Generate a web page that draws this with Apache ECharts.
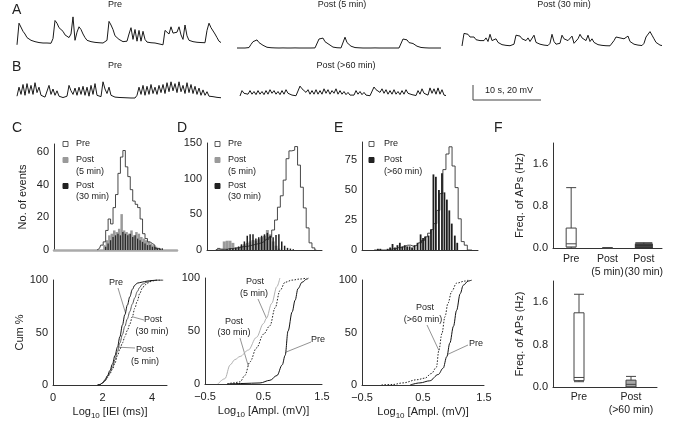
<!DOCTYPE html>
<html><head><meta charset="utf-8">
<script src="https://cdn.jsdelivr.net/npm/echarts/dist/echarts.min.js"></script>
<style>html,body{margin:0;padding:0;background:#fff}#c{width:675px;height:434px}</style>
</head><body><div id="c"></div><script>
// ---------- DATA ----------
// Voltage traces (mV above baseline, uniform sampling)
const tracePreA = [-2,22,20,13,10,6,8,3,2,1.5,1,0.5,0.3,0,0,0,0,-0.3,5,25,22,17,18,13,9,11,6,10,29,3,12,18,15,10,6,3,2,1.5,1,0.7,0.5,0.3,0.2,0,0,3,24,20,15,8,9,4,2,1.5,2,2,10,17,4,15,2,14,2,13,4,1,0.5,0.3,0,0,-0.5,-1,-1.5,-2,14,16,10,18,11,13,12,18,9,4,20,8,3,2,1.5,1,0.8,0.5,0.5,0.3,0.3,14,22,17,18,10,6,2,0.5];
const tracePost5A = [0,0.2,0,0.1,0,0.2,0.5,4,7,5,9,6,7,3,1.5,0.8,0.5,0.3,0.2,0.1,0,0,0,0.1,0,0,0,0,0,0.1,0,0,0,0,0,0,0,0,0,0.1,2,10,8,11,7,8,4,2,1,0.5,0.3,0.2,0.1,2,12,6,5,2,1,0.5,0.3,0.2,0.1,0,0,0,0,0,0,0.1,0,0,0,0,0,0,0,0,0,0,0,0,1,10,8,9,6,6,5,3,2,1.2,0.6,0.3,0.2,0.1,0,0,0,0.2,0,1.5,0];
const tracePost30A = [0,14,12,13,10,9,10,7,6,6,5,6,9,5,13,6,4,8,4,2.5,1.5,1,0.7,0.5,0.3,0.3,2,12,10,11,8,7,6,9,5,4,12,4,3,2,1.5,1,0.8,0.5,3,13,5,2,1,3,12,8,9,6,5,11,3,2,8,13,9,10,6,12,5,8,4,2.5,1.5,1,0.7,0.5,0.3,0.3,0.2,0.5,6,10,8,9,7,8,6,11,5,3,2,1.5,1,0.6,0.5,3,10,9,16,12,8,4,2,1,0.5];
const tracePreB = [2,12,4,15,3,16,5,14,4,17,6,12,3,1.5,1,2,14,4,10,3,8,2,1,0.5,0.3,2,14,8,4,11,3,12,4,13,3,12,2,14,4,16,3,2,1.5,18,10,5,12,3,1.5,1,0.8,0.6,0.5,0.4,0.3,0.2,0.1,0,0,0,3,12,4,14,3,13,4,15,5,12,4,14,6,15,5,17,7,18,8,16,6,18,7,14,5,17,6,15,5,13,4,11,3,9,3,7,2,4,1.5,1,0.7,0.5,0.3];
const tracePost60B = [0,6,3,5,2,6,2,5,1.5,6,2,5,1.5,6,2,7,3,6,2,5,1.5,6,2,7,3,5,1,0.5,0.3,1,11,8,10,4,7,2,6,2,7,2,6,2,8,3,7,2,6,3,8,2,6,2,5,1.5,4,1,0.5,1,6,2,5,1.5,4,1,0.5,0.3,1,10,7,9,4,8,3,7,2,6,2,7,2,5,1.5,6,2,7,3,5,1.5,1,0.5,6,2,8,3,5,1,9,3,8,2,9,2,7,1,0.5];

// C: IEI histograms (log10 ms)
const cBins = [1.75,1.85,1.95,2.05,2.15,2.25,2.35,2.45,2.55,2.65,2.75,2.85,2.95,3.05,3.15,3.25,3.35,3.45,3.55,3.65,3.75,3.85,3.95,4.05,4.15,4.25,4.35];
const cPre = [0,1,3,5,12,19,16,26,34,47,57,61,51,45,37,30,28,26,19,10,7,5,4,3,1,1,0];
const cPost5 = [0,0,0,3,6,9,10,12,11,13,22,12,11,10,12,9,11,10,8,7,6,5,4,3,2,1,0];
const cBins30 = [2.1,2.2,2.3,2.4,2.5,2.6,2.7,2.8,2.9,3.0,3.1,3.2,3.3,3.4,3.5,3.6,3.7,3.8,3.9,4.0,4.1,4.2,4.3,4.4];
const cPost30 = [2,4,6,8,9,10,9,11,10,9,10,8,9,7,6,5,4,3,3,2,2,1,1,1];

// D: amplitude histograms (log10 mV)
const dBins = [-0.35,-0.3,-0.25,-0.2,-0.15,-0.1,-0.05,0,0.05,0.1,0.15,0.2,0.25,0.3,0.35,0.4,0.45,0.5,0.55,0.6,0.65,0.7,0.75,0.8,0.85,0.9,0.95,1.0,1.05,1.1,1.15,1.2,1.25,1.3,1.35,1.4];
const dPre = [0,2,1,1,1,2,2,3,3,4,5,5,6,7,8,9,10,12,15,18,28,42,60,76,98,128,139,140,145,119,88,59,31,10,3,0];
const dPost5 = [0,3,2,12,13,13,10,3,4,6,8,10,12,14,13,15,18,20,28,22,12,6,2,0,0,0,0,0,0,0,0,0,0,0,0,0];
const dPost30 = [0,0,0,0,1,2,2,3,5,8,12,20,22,22,16,18,20,22,24,20,18,21,22,12,6,3,2,1,0,0,0,0,0,0,0,0];

// E: amplitude histograms (log10 mV)
const eBins = [-0.3,-0.25,-0.2,-0.15,-0.1,-0.05,0,0.05,0.1,0.15,0.2,0.25,0.3,0.35,0.4,0.45,0.5,0.55,0.6,0.65,0.7,0.75,0.8,0.85,0.9,0.95,1.0,1.05,1.1,1.15,1.2,1.25,1.3];
const ePre = [0,0,0,0,0,0,1,1,2,2,3,4,4,3,4,6,8,11,14,17,22,33,47,67,80,86,70,52,26,7,4,0,0];
const eBins60 = [-0.24,-0.2,-0.08,-0.04,0,0.04,0.08,0.12,0.16,0.2,0.24,0.28,0.32,0.36,0.41,0.46,0.5,0.54,0.59,0.63,0.67,0.71,0.76,0.81,0.85,0.89,0.93,0.97,1.02,1.06];
const ePost60 = [1,1,1,2,5,2,4,6,3,4,3,3,2,4,6,13,10,11,12,17,63,61,50,64,48,42,33,22,12,6];

// Cumulative distributions [log value, cum %]
const cdfCPre = [[1.8,0],[1.9,0.5],[2.0,2],[2.1,5],[2.2,9],[2.3,14],[2.4,20],[2.5,28],[2.6,36],[2.7,46],[2.8,57],[2.9,67],[3.0,76],[3.1,84],[3.2,91],[3.3,95],[3.4,97],[3.6,98],[3.8,99],[4.0,99.5],[4.2,100],[4.4,100]];
const cdfCPost5 = [[1.8,0],[1.9,0.5],[2.0,2],[2.1,4],[2.2,8],[2.3,12],[2.4,17],[2.5,24],[2.6,32],[2.7,40],[2.8,48],[2.9,56],[3.0,63],[3.1,70],[3.2,77],[3.3,83],[3.4,89],[3.5,93],[3.6,96],[3.8,98],[4.0,99.5],[4.2,100]];
const cdfCPost30 = [[1.8,0],[1.9,0.5],[2.0,2],[2.1,4],[2.2,7],[2.3,11],[2.4,15],[2.5,21],[2.6,28],[2.7,34],[2.8,40],[2.9,46],[3.0,52],[3.1,58],[3.2,65],[3.3,73],[3.4,80],[3.5,87],[3.6,92],[3.7,95],[3.8,97],[4.0,99],[4.2,100],[4.5,100]];
const cdfDPost5 = [[-0.28,0],[-0.16,5],[-0.07,18],[0.01,23],[0.1,26],[0.24,32],[0.38,44],[0.5,57],[0.55,62],[0.64,76],[0.73,92],[0.78,100]];
const cdfDPost30 = [[-0.12,0],[-0.02,1],[0.1,2],[0.18,8],[0.27,21],[0.38,34],[0.5,47],[0.61,55],[0.7,72],[0.78,88],[0.87,96],[0.99,98],[1.12,99],[1.24,100]];
const cdfDPre = [[-0.12,0],[0.15,0.5],[0.44,1],[0.61,3.5],[0.73,8],[0.82,18],[0.87,27],[0.92,50],[0.99,68],[1.04,79],[1.09,90],[1.16,96],[1.24,99],[1.27,100]];
const cdfEPost60 = [[-0.18,0],[0.01,0.5],[0.17,2],[0.4,5],[0.53,6.5],[0.64,11],[0.72,17],[0.76,33],[0.81,49],[0.86,65],[0.91,78],[0.97,89],[1.05,97],[1.19,99],[1.24,100]];
const cdfEPre = [[0.29,0],[0.45,2],[0.61,4],[0.75,10],[0.83,16],[0.89,27],[0.94,40],[1.0,56],[1.05,71],[1.11,87],[1.16,95],[1.24,99],[1.3,100]];

// F: AP frequency box plots [min, Q1, median, Q3, max] (Hz)
const fCats = ['Pre', 'Post\n(5 min)', 'Post\n(30 min)'];
const fPre = [0, 0.02, 0.08, 0.38, 1.15];
const fPost5 = [0, 0, 0, 0, 0];
const fPost30 = [0, 0, 0.05, 0.08, 0.1];
const fCats2 = ['Pre', 'Post\n(>60 min)'];
const fPre2 = [0.1, 0.12, 0.18, 1.4, 1.75];
const fPost60 = [0, 0, 0.05, 0.13, 0.2];

// ---------- CHART ----------
const FONT = '"Liberation Sans", Arial, Helvetica, sans-serif';
const INK = '#222';
const chart = echarts.init(document.getElementById('c'), null, {renderer: 'canvas'});

const G = (l, t, w, h) => ({left: l, top: t, width: w, height: h, containLabel: false, outerBoundsMode: 'none'});
const grids = [
  G(17, 14.2, 204, 31.5), G(237, 19.2, 204, 31.5), G(462, 17.2, 200, 31.5),
  G(17, 69.2, 204, 31.5), G(240, 67.2, 206, 31.5),
  G(54, 144, 123, 106), G(207, 143, 115, 107), G(362, 142, 116, 108), G(553, 143, 109, 105),
  G(53, 280, 114, 105), G(205, 278, 117, 106), G(362, 280, 122, 105), G(553, 281, 104, 106)
];
const axLine = {onZero: false, lineStyle: {color: '#333', width: 1}};
const lab = {color: INK, fontSize: 11, fontFamily: FONT};
const nameTS = {color: INK, fontSize: 11, fontFamily: FONT};
const hid = (g, min, max) => ({type: 'value', gridIndex: g, min, max, show: false});
const minus = v => String(v).replace('-', '\u2212');
const logName = txt => ({
  name: '{a|Log}{s|10}{a| ' + txt + '}',
  nameLocation: 'middle', nameGap: 21,
  nameTextStyle: {rich: {
    a: {fontSize: 11, fontFamily: FONT, color: INK, lineHeight: 12, verticalAlign: 'top'},
    s: {fontSize: 8, fontFamily: FONT, color: INK, lineHeight: 8, padding: [6, 0, 0, 0], verticalAlign: 'top'}
  }}
});

const traces = [tracePreA, tracePost5A, tracePost30A, tracePreB, tracePost60B];
const xAxis = [];
const yAxis = [];
traces.forEach((t, i) => { xAxis.push(hid(i, 0, t.length - 1)); yAxis.push(hid(i, -3, 32)); });
// 5 C top, 6 D top, 7 E top
xAxis.push({type: 'value', gridIndex: 5, min: 0, max: 5, axisLine: {onZero: false, lineStyle: {color: '#aaa', width: 2.5}}, axisTick: {show: false}, axisLabel: {show: false}, splitLine: {show: false}});
xAxis.push({type: 'value', gridIndex: 6, min: -0.5, max: 1.5, axisLine: axLine, axisTick: {show: false}, axisLabel: {show: false}, splitLine: {show: false}});
xAxis.push({type: 'value', gridIndex: 7, min: -0.5, max: 1.4, axisLine: axLine, axisTick: {show: false}, axisLabel: {show: false}, splitLine: {show: false}});
// 8 F top
xAxis.push({type: 'category', gridIndex: 8, data: fCats, axisLine: axLine, axisTick: {show: false}, axisLabel: Object.assign({}, lab, {margin: 5, lineHeight: 13, interval: 0, fontSize: 10.5}), splitLine: {show: false}});
// 9-11 bottom CDFs
xAxis.push(Object.assign({type: 'value', gridIndex: 9, min: 0, max: 4.6, interval: 2, axisLine: axLine, axisTick: {show: false}, axisLabel: Object.assign({margin: 7, showMaxLabel: false}, lab), splitLine: {show: false}}, logName('[IEI (ms)]')));
xAxis.push(Object.assign({type: 'value', gridIndex: 10, min: -0.5, max: 1.5, interval: 1, axisLine: axLine, axisTick: {show: false}, axisLabel: Object.assign({margin: 7, formatter: minus}, lab), splitLine: {show: false}}, logName('[Ampl. (mV)]')));
xAxis.push(Object.assign({type: 'value', gridIndex: 11, min: -0.5, max: 1.5, interval: 1, axisLine: axLine, axisTick: {show: false}, axisLabel: Object.assign({margin: 7, formatter: minus}, lab), splitLine: {show: false}}, logName('[Ampl. (mV)]')));
// 12 F bottom
xAxis.push({type: 'category', gridIndex: 12, data: fCats2, axisLine: axLine, axisTick: {show: false}, axisLabel: Object.assign({}, lab, {margin: 4, lineHeight: 13, interval: 0, fontSize: 10.5}), splitLine: {show: false}});
// 13.. hidden axes for overlapping bar layers / second box series
xAxis.push(hid(5, 0, 5));        // 13 C gray
xAxis.push(hid(5, 0, 5));        // 14 C black
xAxis.push(hid(6, -0.5, 1.5));   // 15 D gray
xAxis.push(hid(6, -0.5, 1.5));   // 16 D black
xAxis.push(hid(7, -0.5, 1.4));   // 17 E black
xAxis.push({type: 'category', gridIndex: 8, data: fCats, show: false}); // 18

const yv = (g, min, max, interval, extra) => Object.assign({type: 'value', gridIndex: g, min, max, interval,
  axisLine: {show: true, onZero: false, lineStyle: {color: '#333', width: 1}}, axisTick: {show: false},
  axisLabel: Object.assign({margin: 5}, lab), splitLine: {show: false}}, extra || {});
const yName = (n, gap) => ({name: n, nameLocation: 'middle', nameGap: gap, nameRotate: 90, nameTextStyle: nameTS});
const noMax = {axisLabel: Object.assign({margin: 5, showMaxLabel: false}, lab)};
yAxis.push(yv(5, 0, 65, 20, Object.assign(yName('No. of events', 26), noMax)));
yAxis.push(yv(6, 0, 150, 50));
yAxis.push(yv(7, 0, 90, 25, noMax));
yAxis.push(yv(8, 0, 2, 0.8, Object.assign(yName('Freq. of APs (Hz)', 28), {axisLabel: Object.assign({margin: 5, showMaxLabel: false, formatter: v => v.toFixed(1)}, lab)})));
yAxis.push(yv(9, 0, 100, 50, yName('Cum %', 26)));
yAxis.push(yv(10, 0, 100, 50));
yAxis.push(yv(11, 0, 100, 50));
yAxis.push(yv(12, 0, 2, 0.8, Object.assign(yName('Freq. of APs (Hz)', 28), {axisLabel: Object.assign({margin: 5, showMaxLabel: false, formatter: v => v.toFixed(1)}, lab)})));

const pairs = (xs, ys) => xs.map((x, i) => [x, ys[i]]);
const series = [];
traces.forEach((t, i) => series.push({type: 'line', xAxisIndex: i, yAxisIndex: i, data: t.map((v, k) => [k, v]),
  showSymbol: false, symbol: 'none', lineStyle: {color: '#1a1a1a', width: 1}, silent: true, animation: false}));
const step = (xi, yi, xs, ys) => ({type: 'line', step: 'middle', xAxisIndex: xi, yAxisIndex: yi, data: pairs(xs, ys),
  symbol: 'none', lineStyle: {color: '#333', width: 0.9}, z: 3, animation: false});
const bars = (xi, yi, xs, ys, color, w, z) => ({type: 'bar', xAxisIndex: xi, yAxisIndex: yi, data: pairs(xs, ys),
  barWidth: w, itemStyle: {color}, z, animation: false});
// C top
series.push(bars(13, 5, cBins, cPost5, '#9a9a9a', 2.5, 2));
series.push(step(5, 5, cBins, cPre));
series.push(bars(14, 5, cBins30, cPost30, '#2a2a2a', 1.3, 4));
// D top
series.push(bars(15, 6, dBins, dPost5, '#9a9a9a', 3, 2));
series.push(step(6, 6, dBins, dPre));
series.push(bars(16, 6, dBins, dPost30, '#1e1e1e', 1.5, 4));
// E top
series.push(step(7, 7, eBins, ePre));
series.push(bars(17, 7, eBins60, ePost60, '#1e1e1e', 1.8, 4));
// F top
series.push({type: 'boxplot', xAxisIndex: 8, yAxisIndex: 8, boxWidth: [10, 10],
  data: [{value: fPre, itemStyle: {color: '#fff'}}, {value: fPost5, itemStyle: {color: '#fff'}}],
  itemStyle: {borderColor: '#444', borderWidth: 1}, animation: false});
series.push({type: 'boxplot', xAxisIndex: 18, yAxisIndex: 8, boxWidth: [17, 17],
  encode: {x: 0, y: [1, 2, 3, 4, 5]},
  data: [[fCats[2]].concat(fPost30)],
  itemStyle: {color: '#444', borderColor: '#333', borderWidth: 1}, animation: false});
// F bottom
series.push({type: 'boxplot', xAxisIndex: 12, yAxisIndex: 12, boxWidth: [10, 10],
  data: [{value: fPre2, itemStyle: {color: '#fff'}}, {value: fPost60, itemStyle: {color: '#a8a8a8'}}],
  itemStyle: {borderColor: '#444', borderWidth: 1}, animation: false});
// CDFs
const cdf = (g, d, color, type) => ({type: 'line', xAxisIndex: g, yAxisIndex: g, data: d, symbol: 'none', smooth: 0.35, smoothMonotone: 'x',
  lineStyle: {color, width: 1, type}, animation: false});
series.push(cdf(9, cdfCPost5, '#555', 'solid'));
series.push(cdf(9, cdfCPre, '#111', 'solid'));
series.push(cdf(9, cdfCPost30, '#222', [1.5, 1.5]));
series.push(cdf(10, cdfDPost5, '#b0b0b0', 'solid'));
series.push(cdf(10, cdfDPost30, '#222', [1.5, 1.5]));
series.push(cdf(10, cdfDPre, '#111', 'solid'));
series.push(cdf(11, cdfEPost60, '#222', [1.5, 1.5]));
series.push(cdf(11, cdfEPre, '#111', 'solid'));

// ---------- annotations ----------
const T = (x, y, text, opt) => Object.assign({type: 'text', x, y, silent: true,
  style: Object.assign({text, fill: INK, font: '9px ' + FONT, align: 'center', verticalAlign: 'middle'}, (opt || {}))});
const L = (x1, y1, x2, y2, color, w) => ({type: 'line', silent: true, shape: {x1, y1, x2, y2}, style: {stroke: color || '#777', lineWidth: w || 0.8}});
const SQ = (x, y, fill) => ({type: 'rect', silent: true, shape: {x: x, y: y - 2.5, width: 5, height: 5}, style: fill ? {fill, stroke: fill} : {fill: '#fff', stroke: '#333', lineWidth: 0.8}});
const big = {font: '14px ' + FONT, align: 'left'};
const left = {align: 'left'};

const graphic = [
  T(12, 10, 'A', big), T(12, 67, 'B', big),
  T(115, 5, 'Pre'), T(342, 5, 'Post (5 min)'), T(564, 5, 'Post (30 min)'),
  T(115, 66, 'Pre'), T(346, 66, 'Post (>60 min)'),
  L(473, 85, 473, 100, '#444', 1), L(473, 100, 541, 100, '#444', 1), T(509, 91, '10 s, 20 mV'),
  T(12, 128, 'C', big), T(177, 128, 'D', big), T(334, 128, 'E', big), T(494, 128, 'F', big),
  // legends
  SQ(63, 144), T(76, 144, 'Pre', left),
  SQ(63, 160, '#9a9a9a'), T(76, 160, 'Post', left), T(76, 172, '(5 min)', left),
  SQ(63, 186, '#222'), T(76, 186, 'Post', left), T(76, 197, '(30 min)', left),
  SQ(215, 144), T(228, 144, 'Pre', left),
  SQ(215, 160, '#9a9a9a'), T(228, 160, 'Post', left), T(228, 172, '(5 min)', left),
  SQ(215, 186, '#222'), T(228, 186, 'Post', left), T(228, 197, '(30 min)', left),
  SQ(369, 144), T(384, 144, 'Pre', left),
  SQ(369, 160, '#222'), T(384, 160, 'Post', left), T(384, 172, '(>60 min)', left),
  // CDF labels
  T(116, 283, 'Pre'),
  T(153, 320, 'Post'), T(152, 332, '(30 min)'),
  T(145, 350, 'Post'), T(145, 362, '(5 min)'),
  T(255, 282, 'Post'), T(254, 294, '(5 min)'),
  T(234, 322, 'Post'), T(234, 333, '(30 min)'),
  T(318, 340, 'Pre'),
  T(425, 308, 'Post'), T(423, 320, '(>60 min)'),
  T(476, 344, 'Pre')
];

const option = {
  animation: false,
  backgroundColor: '#fff',
  textStyle: {fontFamily: FONT},
  grid: grids, xAxis, yAxis, series, graphic
};
chart.setOption(option);

// leader lines from labels to points on the curves (anchored in data coordinates)
const leaders = [
  [9, [118, 288], [2.92, 69]],
  [9, [144, 320], [3.2, 65]],
  [9, [135, 348], [2.65, 36]],
  [10, [258, 299], [0.55, 62]],
  [10, [240, 338], [0.24, 17]],
  [10, [311, 342], [0.88, 30]],
  [11, [427, 325], [0.76, 33]],
  [11, [468, 345], [0.9, 29]]
];
const extra = leaders.map(([g, from, pt]) => {
  const p = chart.convertToPixel({gridIndex: g}, pt);
  return L(from[0], from[1], p[0], p[1], '#777', 0.8);
});
chart.setOption({graphic: graphic.concat(extra)});
</script></body></html>
